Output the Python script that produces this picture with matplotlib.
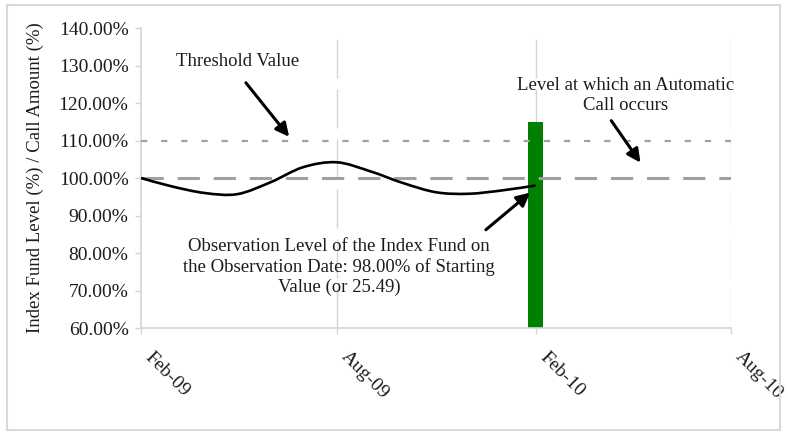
import numpy as np
import pandas as pd
import matplotlib
matplotlib.use("Agg")
import matplotlib.pyplot as plt
import matplotlib.dates as mdates
import matplotlib.transforms as mtransforms
from matplotlib.path import Path
from matplotlib.patches import PathPatch, Rectangle
from matplotlib.ticker import FuncFormatter, MultipleLocator

# monthly index fund level, % of starting value
months = pd.date_range("2009-02-01", "2010-02-01", freq="MS")
index_level = [100.0, 97.8, 96.0, 95.7, 98.9, 102.9, 104.2, 101.8, 98.7, 96.2, 95.8, 96.7, 98.0]

threshold = 110.0
call_level = 100.0
call_date = pd.Timestamp("2010-02-01")
call_amount = 115.0

tick_dates = pd.to_datetime(["2009-02-01", "2009-08-01", "2010-02-01", "2010-08-01"])

plt.rcParams["font.family"] = ["Liberation Serif", "DejaVu Serif"]
plt.rcParams["lines.scale_dashes"] = False
TXT = "#1c1c1c"
GRID = "#d4d4d4"
REF = "#a0a0a0"

fig = plt.figure(figsize=(7.88, 4.32), dpi=100)
ax = fig.add_axes([0.179, 0.2407, 0.749, 0.6944])

# outer frame
fig.patches.append(Rectangle((0.0089, 0.005), 0.981, 0.983, transform=fig.transFigure,
                             fill=False, ec="#d9d9d9", lw=1.5))

for d in tick_dates[1:]:
    ax.axvline(d, color=GRID, lw=1.0, ls=(0, (28, 8)), zorder=0.5)

ax.bar(call_date, call_amount - 60, bottom=60, width=14, color="#008000", zorder=1)

# smoothed curve through the monthly points (cardinal bezier)
xs = mdates.date2num(months.to_pydatetime())
ys = np.array(index_level)
verts = [(xs[0], ys[0])]
codes = [Path.MOVETO]
for i in range(len(xs) - 1):
    x0, y0 = (xs[i - 1], ys[i - 1]) if i > 0 else (xs[i], ys[i])
    x3, y3 = (xs[i + 2], ys[i + 2]) if i + 2 < len(xs) else (xs[i + 1], ys[i + 1])
    c1 = (xs[i] + (xs[i + 1] - x0) / 6, ys[i] + (ys[i + 1] - y0) / 6)
    c2 = (xs[i + 1] - (x3 - xs[i]) / 6, ys[i + 1] - (y3 - ys[i]) / 6)
    verts += [c1, c2, (xs[i + 1], ys[i + 1])]
    codes += [Path.CURVE4] * 3
ax.add_patch(PathPatch(Path(verts, codes), fill=False, ec="black", lw=1.9, zorder=4))

ax.axhline(threshold, color=REF, lw=1.6, ls=(0, (4.5, 10)), zorder=3)
ax.axhline(call_level, color=REF, lw=2.2, ls=(0, (16, 10)), zorder=3)

ax.set_xlim(tick_dates[0], tick_dates[-1])
ax.set_ylim(60, 140)
ax.yaxis.set_major_locator(MultipleLocator(10))
ax.yaxis.set_major_formatter(FuncFormatter(lambda v, p: f"{v:.2f}%"))
ax.set_xticks(tick_dates)
ax.xaxis.set_major_formatter(mdates.DateFormatter("%b-%y"))

for side in ["top", "right"]:
    ax.spines[side].set_visible(False)
for side in ["left", "bottom"]:
    ax.spines[side].set_color(GRID)
    ax.spines[side].set_linewidth(1.2)
ax.tick_params(axis="both", colors=GRID, labelcolor=TXT, labelsize=14, length=4, width=1.0)
ax.tick_params(axis="y", pad=5)
ax.tick_params(axis="x", pad=15)
shift = mtransforms.ScaledTranslation(7 / 100, 0, fig.dpi_scale_trans)
for lab in ax.get_xticklabels():
    lab.set_rotation(-45)
    lab.set_ha("left")
    lab.set_va("center")
    lab.set_rotation_mode("anchor")
    lab.set_transform(lab.get_transform() + shift)

ax.set_ylabel("Index Fund Level (%) / Call Amount (%)", fontsize=13.5, color=TXT)
ax.yaxis.set_label_coords(-0.165, 0.5)

arrow = dict(arrowstyle="-|>", color="black", lw=2.2, mutation_scale=20, shrinkA=0, shrinkB=0)
ax.text(pd.Timestamp("2009-05-01"), 131, "Threshold Value", ha="center", va="center",
        fontsize=13.5, color=TXT)
ax.annotate("", xy=(pd.Timestamp("2009-06-18"), 111), xytext=(pd.Timestamp("2009-05-09"), 125.4),
            arrowprops=arrow, zorder=6)

ax.text(pd.Timestamp("2010-04-25"), 122, "Level at which an Automatic\nCall occurs",
        ha="center", va="center", fontsize=13.5, color=TXT, linespacing=1.2)
ax.annotate("", xy=(pd.Timestamp("2010-05-09"), 104.1), xytext=(pd.Timestamp("2010-04-12"), 115.3),
            arrowprops=arrow, zorder=6)

ax.text(pd.Timestamp("2009-08-03"), 76.3,
        "Observation Level of the Index Fund on\nthe Observation Date: 98.00% of Starting\nValue (or 25.49)",
        ha="center", va="center", fontsize=13.5, color=TXT, linespacing=1.2)
ax.annotate("", xy=(pd.Timestamp("2010-01-27"), 96.1), xytext=(pd.Timestamp("2009-12-17"), 86.2),
            arrowprops=arrow, zorder=6)

fig.savefig("out.png", dpi=100)
